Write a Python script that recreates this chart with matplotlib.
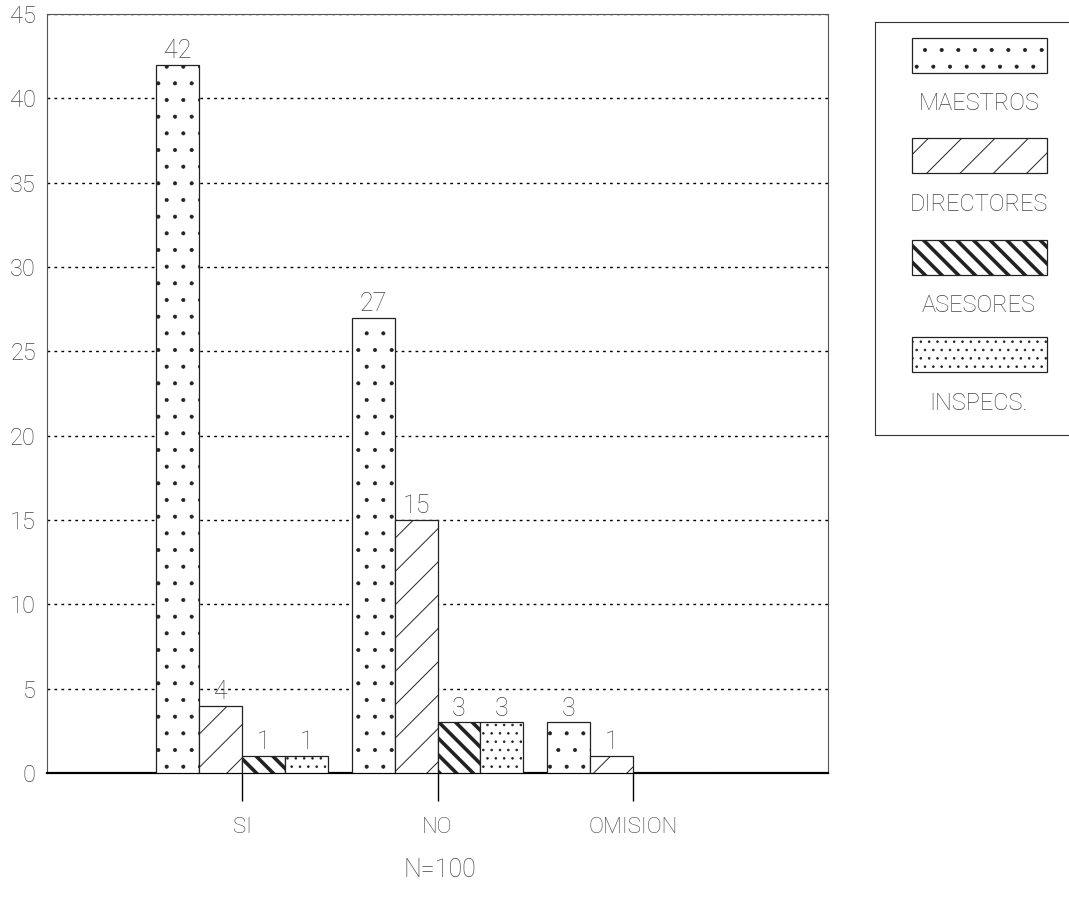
import numpy as np
import matplotlib.pyplot as plt
from matplotlib.patches import Rectangle

categories = ['SI', 'NO', 'OMISION']
series = ['MAESTROS', 'DIRECTORES', 'ASESORES', 'INSPECS.']
maestros = [42, 27, 3]
directores = [4, 15, 1]
asesores = [1, 3, 0]
inspecs = [1, 3, 0]
values = [maestros, directores, asesores, inspecs]

hatches = ['.', '/', '\\\\', '..']
hatch_lw = [0.45, 0.7, 2.6, 0.6]

plt.rcParams['font.family'] = ['Roboto', 'DejaVu Sans']
plt.rcParams['font.weight'] = 'light'
txt_color = '#444444'

fig = plt.figure(figsize=(10.69, 9.14), dpi=100)
ax = fig.add_axes([0.044, 0.1543, 0.7306, 0.8304])

x = np.arange(1, len(categories) + 1)
w = 0.22
for i, (name, vals) in enumerate(zip(series, values)):
    plt.rcParams['hatch.linewidth'] = hatch_lw[i]
    pos = x + (i - 1.5) * w
    bars = ax.bar(pos, vals, width=w, facecolor='white', edgecolor='#222222',
                  linewidth=0.9, hatch=hatches[i], zorder=3)
    for b, v in zip(bars, vals):
        if v > 0:
            ax.text(b.get_x() + b.get_width() / 2, v + 0.1, str(v),
                    ha='center', va='bottom', fontsize=18, color=txt_color)

ax.set_xlim(0, 4)
ax.set_ylim(0, 45)
ax.set_yticks(range(0, 46, 5))
ax.set_xticks(x)
ax.set_xticklabels(categories)
ax.tick_params(axis='y', length=0, pad=8, labelsize=17, labelcolor=txt_color)
ax.tick_params(axis='x', direction='out', length=20, width=1, pad=12,
               labelsize=16, labelcolor=txt_color)
ax.yaxis.grid(True, linestyle=(0, (2, 3)), color='black', linewidth=1.0, zorder=1)
for s in ['top', 'right', 'left']:
    ax.spines[s].set_linewidth(0.8)
    ax.spines[s].set_color('#555555')
ax.spines['bottom'].set_linewidth(1.6)

fig.text(0.4116, 0.048, 'N=100', ha='center', va='center', fontsize=18, color=txt_color)

# legend box
lax = fig.add_axes([0.8185, 0.524, 0.2, 0.452])
lax.set_xlim(875, 1089)
lax.set_ylim(435, 22)
lax.set_xticks([])
lax.set_yticks([])
for s in lax.spines.values():
    s.set_linewidth(0.8)
    s.set_color('#333333')
patch_y = [38, 138, 240, 337]
label_y = [104, 204, 305, 403]
for i, name in enumerate(series):
    plt.rcParams['hatch.linewidth'] = hatch_lw[i]
    lax.add_patch(Rectangle((912, patch_y[i]), 135, 35, facecolor='white',
                            edgecolor='#222222', linewidth=0.9, hatch=hatches[i]))
    lax.text(979, label_y[i], name, ha='center', va='center', fontsize=17, color=txt_color)

fig.savefig('out.png', dpi=100)
